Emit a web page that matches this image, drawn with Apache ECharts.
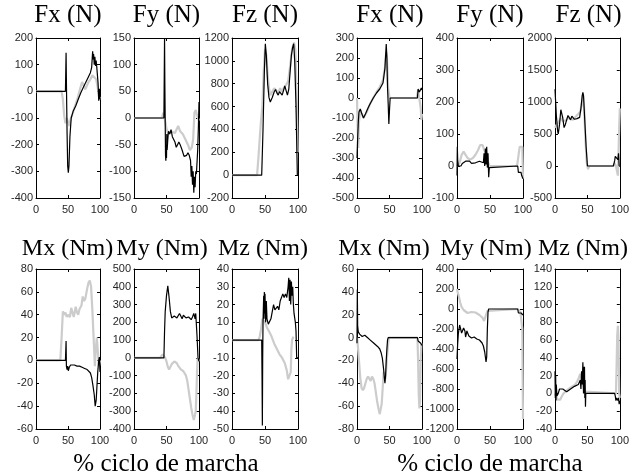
<!DOCTYPE html>
<html>
<head>
<meta charset="utf-8">
<script src="https://cdn.jsdelivr.net/npm/echarts@6/dist/echarts.min.js"></script>
<style>
html, body { margin: 0; padding: 0; background: #fff; }
#chart { width: 632px; height: 476px; }
</style>
</head>
<body>
<div id="chart"></div>
<script>
// datos: [% ciclo de marcha, valor]  -- pierna izquierda (l) y derecha (r)
var lFxGray = [[0,0],[40,0],[42,-30],[44,-90],[46,-120],[48,-100],[50,-115],[52,-130],[54,-105],[57,-85],[61,-55],[65,-25],[69,10],[72,35],[75,32],[77,8],[79,12],[82,35],[85,45],[88,60],[91,58],[94,45],[96,20],[98,-10],[99,-30],[100,-20]];
var lFxBlack = [[0,0],[46,0],[47,145],[47.5,40],[48.5,-150],[49.5,-280],[50.5,-305],[51.5,-280],[53,-170],[55,-100],[58,-75],[62,-55],[66,-30],[70,-5],[74,15],[78,35],[82,55],[85,70],[87,90],[88.5,150],[89.5,120],[90,140],[91,100],[92,130],[93,95],[94,115],[95,90],[96,95],[97,30],[98,-35],[99,10],[100,-30]];
var lFyGray = [[0,0],[43,0],[45,10],[47,0],[50,-20],[53,-30],[57,-25],[60,-22],[63,-28],[66,-20],[68,-15],[71,-25],[75,-30],[79,-40],[83,-50],[86,-60],[89,-55],[91,-40],[93,10],[95,15],[97,5],[100,-5]];
var lFyBlack = [[0,0],[46,0],[47,150],[47.5,60],[48.5,-70],[49,-80],[49.5,-50],[50,-75],[50.5,-30],[51,-60],[52,-40],[53,-25],[55,-30],[57,-22],[59,-35],[61,-38],[63,-45],[65,-55],[67,-50],[69,-45],[71,-50],[74,-60],[77,-72],[79,-75],[81,-70],[83,-65],[85,-70],[87,-80],[88,-110],[89,-90],[90,-125],[91,-100],[92,-140],[93,-110],[94,-130],[95,-100],[96,-105],[98,-60],[99,-20],[100,30]];
var lFzGray = [[0,0],[38,0],[40,150],[42,320],[44,480],[46,600],[48,900],[50,1100],[52,1050],[54,880],[56,760],[58,700],[61,700],[64,760],[67,740],[70,720],[73,760],[76,730],[79,770],[82,790],[85,820],[88,950],[91,1100],[94,1160],[96,1100],[98,700],[99.5,200]];
var lFzBlack = [[0,0],[45,0],[47,400],[49,900],[50.5,1150],[52,1050],[54,800],[56,680],[58,640],[61,680],[64,730],[66,750],[68,720],[70,700],[72,730],[74,720],[76,700],[78,740],[80,780],[82,740],[84,700],[86,750],[88,900],[90,1050],[92,1120],[93.5,1150],[95,1000],[97,600],[98.5,150],[99,0]];

var rFxGray = [[0,0],[1,-150],[2,-250],[3,-120],[5,-60],[7,-70],[10,-100],[15,-70],[20,-30],[25,0],[30,30],[35,55],[40,90],[43,150],[45,230],[46,200],[48,50],[50,0],[92,0],[94,40],[96,40],[98,-50],[99,-110],[100,-80]];
var rFxBlack = [[0,-300],[1,-200],[2,-120],[3,-70],[5,-55],[7,-75],[10,-100],[13,-80],[17,-50],[20,-30],[25,0],[30,25],[35,45],[40,75],[43,150],[45,270],[46,200],[47,50],[48,-30],[49,-130],[50,-60],[51,0],[93,0],[94,45],[96,30],[98,35],[99,50],[100,40]];
var rFyGray = [[0,0],[2,-5],[4,10],[7,35],[10,45],[13,35],[16,25],[20,20],[24,25],[28,35],[32,50],[35,65],[37,70],[39,65],[41,50],[43,45],[45,40],[47,15],[49,0],[91,0],[93,30],[95,60],[97,65],[99,60],[100,-40]];
var rFyBlack = [[0,-30],[0.5,60],[1,20],[2,0],[4,5],[6,0],[8,8],[10,12],[13,15],[16,12],[19,15],[22,8],[25,5],[28,10],[31,12],[34,15],[37,18],[40,10],[41,40],[42,0],[43,55],[44,5],[45,60],[46,-5],[47,40],[48,-35],[49,-5],[50,0],[92,0],[93,-20],[95,-25],[97,-20],[98,-30],[99,-25],[100,-40]];
var rFzGray = [[0,600],[3,650],[6,700],[9,750],[12,700],[15,680],[18,720],[21,760],[24,760],[27,720],[30,740],[33,780],[36,800],[39,850],[41,950],[43,1100],[45,900],[47,400],[49,50],[51,-50],[53,0],[90,0],[92,50],[94,0],[96,-100],[97,-150],[98,200],[99,600],[100,900]];
var rFzBlack = [[0,1200],[2,800],[4,550],[5,500],[7,650],[9,880],[10,900],[12,750],[14,600],[16,650],[18,720],[20,790],[22,760],[24,720],[26,780],[28,760],[30,730],[32,760],[34,740],[36,720],[38,760],[40,900],[42,1100],[43,1150],[44,1100],[46,700],[48,300],[50,0],[90,0],[92,80],[93,150],[95,120],[97,100],[98,200],[99,0]];

var lMxGray = [[0,0],[38,0],[40,20],[42,43],[44,40],[46,42],[48,38],[50,40],[53,38],[55,46],[57,42],[59,38],[62,47],[64,42],[66,40],[68,45],[71,48],[73,56],[75,52],[77,54],[80,63],[82,68],[84,70],[86,65],[88,45],[90,20],[92,-5],[93.5,10],[95,20],[97,5],[98.5,-5],[100,0]];
var lMxBlack = [[0,0],[46,0],[47,17],[47.5,-5],[48.5,-8],[49.5,-5],[50.5,-9],[52,-6],[54,-4],[57,-3],[60,-4],[64,-5],[68,-5],[72,-6],[76,-7],[80,-8],[83,-9],[85,-11],[87,-15],[89,-22],[91,-30],[92.5,-40],[94,-35],[95,-25],[96.5,-10],[98,0],[99,3],[100,-10]];
var lMyGray = [[0,0],[40,0],[42,10],[44,20],[46,10],[48,0],[50,-20],[52,-50],[54,-65],[56,-55],[58,-35],[60,-25],[62,-20],[64,-22],[66,-30],[68,-45],[70,-55],[72,-65],[74,-70],[76,-75],[78,-85],[80,-100],[82,-130],[84,-180],[86,-230],[88,-280],[90,-320],[92,-350],[93,-355],[94,-340],[95,-300],[96,-200],[97,-80],[98,0],[100,-20]];
var lMyBlack = [[0,0],[46,0],[47,150],[48,260],[50,350],[52,405],[54,340],[56,260],[58,225],[60,220],[62,235],[64,245],[66,225],[68,220],[70,250],[72,235],[74,220],[76,240],[78,245],[80,225],[82,215],[84,230],[86,235],[88,215],[90,230],[92,250],[94,220],[95,250],[97,120],[98.5,0],[100,-20]];
var lMzGray = [[0,0],[40,0],[42,2],[44,6],[46,12],[48,11],[50,10],[53,7],[56,5],[60,2],[64,-2],[68,-5],[72,-8],[76,-10],[80,-13],[83,-17],[85,-22],[87,-23],[89,-18],[90,-5],[91,0],[93,2]];
var lMzBlack = [[0,0],[45,0],[45.5,-20],[46,-48],[46.5,-10],[47,10],[48,25],[48.5,12],[49,27],[49.5,15],[50,26],[51,10],[52,22],[53,12],[55,9],[57,8],[59,12],[61,16],[63,20],[65,17],[67,16],[69,19],[71,17],[73,22],[75,23],[77,26],[79,24],[81,26],[83,24],[85,30],[86,35],[87,22],[88,34],[89,20],[90,33],[91,25],[92,30],[93,20],[94,15],[96,10],[97,5],[98,-10],[100,-10]];

var rMxGray = [[0,0],[1,-5],[3,-20],[5,-35],[7,-44],[9,-46],[11,-44],[13,-40],[15,-36],[17,-34],[19,-36],[21,-38],[23,-34],[25,-36],[27,-40],[29,-48],[31,-56],[33,-62],[35,-67],[37,-66],[38,-58],[40,-40],[41,-30],[42,-38],[44,-35],[46,-18],[48,-5],[49,0],[93,0],[94,-20],[95,-50],[96,-62],[97,-55],[98,-20],[99,-5],[100,-5]];
var rMxBlack = [[0,-5],[0.5,42],[1,10],[2,5],[4,3],[6,4],[8,1],[10,0],[12,2],[14,1],[16,0],[18,-1],[20,-2],[23,-3],[26,-5],[29,-6],[32,-8],[35,-10],[37,-13],[39,-18],[41,-28],[42,-35],[43,-40],[44,-33],[45,-20],[46,-10],[47,-2],[48,0],[93,0],[94,-3],[96,-2],[98,-5],[100,-7]];
var rMyGray = [[0,200],[1,170],[3,120],[5,60],[7,20],[10,-10],[13,-30],[16,-40],[19,-45],[22,-30],[25,-25],[28,-35],[31,-50],[34,-60],[37,-75],[39,-90],[41,-120],[42,-100],[44,-60],[46,-20],[48,0],[92,0],[94,-20],[96,-30],[98,-40],[99,-200],[99.5,-700],[100,-1100]];
var rMyBlack = [[0,-500],[1,-350],[2,-250],[3,-200],[4,-160],[5,-150],[6,-180],[7,-240],[8,-260],[9,-230],[10,-190],[11,-180],[12,-220],[13,-280],[14,-260],[15,-220],[16,-210],[17,-240],[18,-270],[20,-290],[22,-290],[24,-270],[26,-280],[28,-290],[30,-300],[32,-300],[34,-310],[36,-320],[38,-340],[40,-370],[42,-430],[44,-530],[45,-480],[46,-200],[47,-30],[48,0],[92,0],[93,-40],[95,-50],[97,-40],[98,-50],[100,-60]];
var rMzGray = [[0,0],[2,-4],[4,-7],[6,-8],[8,-7],[10,-4],[13,0],[16,2],[19,4],[22,5],[25,7],[28,8],[31,10],[34,13],[37,18],[39,22],[41,20],[43,12],[45,5],[47,2],[48,0],[94,0],[95,30],[96,65],[97,76],[98,60],[99,0],[100,-5]];
var rMzBlack = [[0,25],[0.5,-5],[1,20],[1.5,-8],[2,10],[3,-3],[5,0],[7,5],[9,6],[12,5],[15,3],[18,2],[21,3],[24,5],[27,6],[30,8],[33,10],[36,10],[38,12],[39,15],[40,5],[41,25],[42,10],[43,35],[44,0],[44.5,30],[45,5],[45.5,30],[46,-5],[46.5,15],[47,-15],[47.5,0],[48,0],[92,0],[93,-3],[94,-8],[95,-5],[96,-3],[97,-8],[98,-5],[99,-12],[100,-8]];

var xTicks = [0, 50, 100];
var xLabelText = '% ciclo de marcha';

// paneles: titulo, fila, columna, [min, max, paso] del eje y
var panels = [
    {title: 'Fx (N)', row: 0, col: 0, y: [-400, 200, 100], gray: lFxGray, black: lFxBlack},
    {title: 'Fy (N)', row: 0, col: 1, y: [-150, 150, 50], gray: lFyGray, black: lFyBlack},
    {title: 'Fz (N)', row: 0, col: 2, y: [-200, 1200, 200], gray: lFzGray, black: lFzBlack},
    {title: 'Fx (N)', row: 0, col: 3, y: [-500, 300, 100], gray: rFxGray, black: rFxBlack},
    {title: 'Fy (N)', row: 0, col: 4, y: [-100, 400, 100], gray: rFyGray, black: rFyBlack},
    {title: 'Fz (N)', row: 0, col: 5, y: [-500, 2000, 500], gray: rFzGray, black: rFzBlack},
    {title: 'Mx (Nm)', row: 1, col: 0, y: [-60, 80, 20], gray: lMxGray, black: lMxBlack},
    {title: 'My (Nm)', row: 1, col: 1, y: [-400, 500, 100], gray: lMyGray, black: lMyBlack},
    {title: 'Mz (Nm)', row: 1, col: 2, y: [-50, 40, 10], gray: lMzGray, black: lMzBlack},
    {title: 'Mx (Nm)', row: 1, col: 3, y: [-80, 60, 20], gray: rMxGray, black: rMxBlack},
    {title: 'My (Nm)', row: 1, col: 4, y: [-1200, 400, 200], gray: rMyGray, black: rMyBlack},
    {title: 'Mz (Nm)', row: 1, col: 5, y: [-40, 140, 20], gray: rMzGray, black: rMzBlack}
];

var colLeft = [36, 134, 232, 357, 457, 555];
var colWidth = [64, 65, 66, 65, 66, 67];
var rowTop = [38, 269];
var plotH = 160;
var titleY = [15, 249];
var titleSize = [25, 24];
// centros de los titulos (fila inferior algo desplazada, como en la figura)
var titleX = [
    [68, 166.5, 265, 390, 490, 588.5],
    [67.5, 162, 263, 384, 486, 583]
];
var serif = '"Liberation Serif", "DejaVu Serif", serif';
var sans = '"Liberation Sans", Arial, sans-serif';

function axisBase(show) {
    return {
        axisLine: {onZero: false, lineStyle: {color: '#000', width: 1}},
        axisTick: {inside: true, length: 3, lineStyle: {color: '#000'}},
        axisLabel: {
            show: show, color: '#262626', fontFamily: sans, fontSize: 11,
            formatter: function (v) { return String(v); }
        },
        splitLine: {show: false}
    };
}

var myChart = echarts.init(document.getElementById('chart'));
var grid = [], xAxis = [], yAxis = [], series = [], graphic = [];

panels.forEach(function (p, i) {
    grid.push({left: colLeft[p.col], top: rowTop[p.row], width: colWidth[p.col], height: plotH});

    var xb = axisBase(true);
    xb.axisLabel.margin = 6;
    xAxis.push(Object.assign({gridIndex: i, type: 'value', position: 'bottom', min: xTicks[0], max: xTicks[2], interval: xTicks[1] - xTicks[0]}, xb));
    xAxis.push(Object.assign({gridIndex: i, type: 'value', position: 'top', min: xTicks[0], max: xTicks[2], interval: xTicks[1] - xTicks[0]}, axisBase(false)));

    var yl = axisBase(true);
    yl.axisLabel.margin = 3;
    yAxis.push(Object.assign({gridIndex: i, type: 'value', position: 'left', min: p.y[0], max: p.y[1], interval: p.y[2]}, yl));
    yAxis.push(Object.assign({gridIndex: i, type: 'value', position: 'right', min: p.y[0], max: p.y[1], interval: p.y[2]}, axisBase(false)));

    series.push({
        type: 'line', xAxisIndex: 2 * i, yAxisIndex: 2 * i, data: p.gray,
        symbol: 'none', animation: false, clip: true,
        lineStyle: {color: '#cccccc', width: 2.2}
    });
    series.push({
        type: 'line', xAxisIndex: 2 * i, yAxisIndex: 2 * i, data: p.black,
        symbol: 'none', animation: false, clip: true,
        lineStyle: {color: '#000', width: 1.2}
    });

    graphic.push({
        type: 'text', x: titleX[p.row][p.col], y: titleY[p.row],
        style: {text: p.title, font: titleSize[p.row] + 'px ' + serif, fill: '#000', textAlign: 'center', textVerticalAlign: 'middle'}
    });
});

// etiquetas del eje x de cada pierna
[166, 490].forEach(function (cx) {
    graphic.push({
        type: 'text', x: cx, y: 464,
        style: {text: xLabelText, font: '25px ' + serif, fill: '#000', textAlign: 'center', textVerticalAlign: 'middle'}
    });
});

var option = {
    backgroundColor: '#fff',
    animation: false,
    grid: grid,
    xAxis: xAxis,
    yAxis: yAxis,
    series: series,
    graphic: graphic
};

myChart.setOption(option);
</script>
</body>
</html>
